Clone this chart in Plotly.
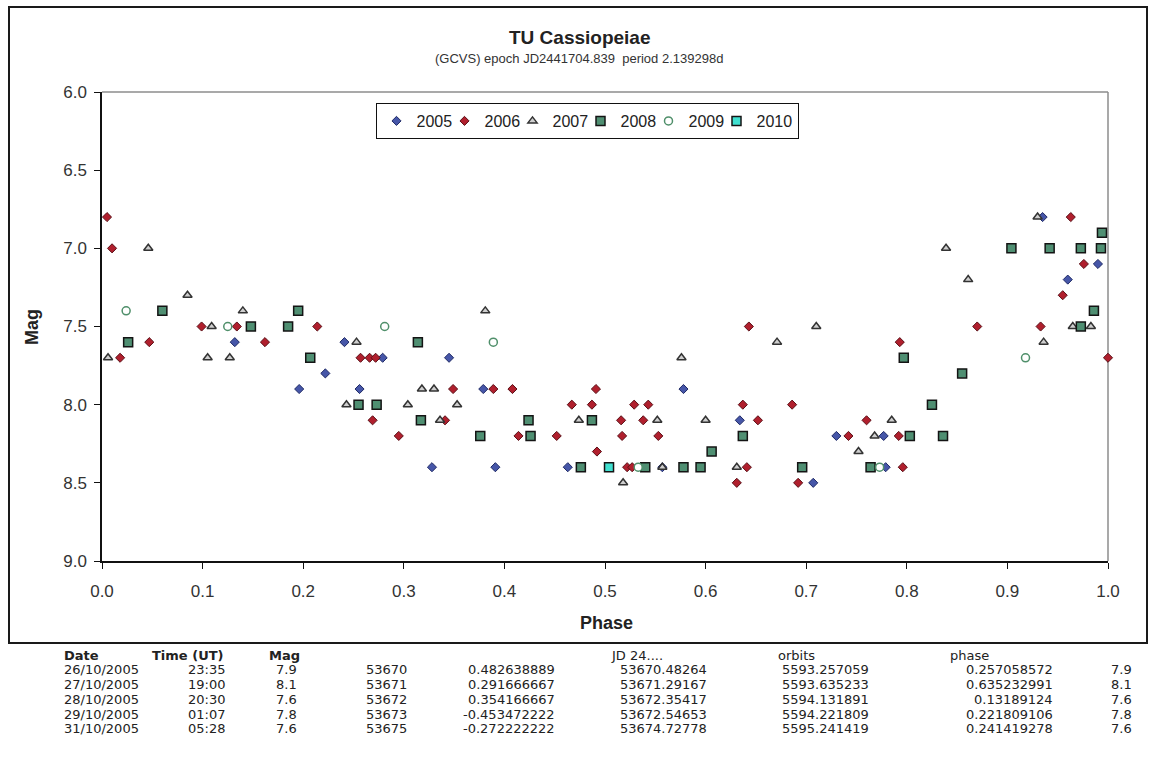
import plotly.graph_objects as go

# ---------------- data ----------------
phase_2005 = [0.132, 0.196, 0.222, 0.241, 0.256, 0.279, 0.328, 0.345, 0.379, 0.391,
              0.463, 0.557, 0.578, 0.634, 0.707, 0.730, 0.777, 0.779, 0.935, 0.960, 0.990]
mag_2005 = [7.6, 7.9, 7.8, 7.6, 7.9, 7.7, 8.4, 7.7, 7.9, 8.4,
            8.4, 8.4, 7.9, 8.1, 8.5, 8.2, 8.2, 8.4, 6.8, 7.2, 7.1]

phase_2006 = [0.005, 0.010, 0.018, 0.047, 0.099, 0.134, 0.162, 0.214, 0.257, 0.266,
              0.272, 0.269, 0.295, 0.341, 0.349, 0.389, 0.408, 0.414, 0.452, 0.467,
              0.487, 0.491, 0.492, 0.516, 0.517, 0.522, 0.527, 0.529, 0.538, 0.543,
              0.553, 0.631, 0.637, 0.641, 0.643, 0.652, 0.686, 0.692, 0.742, 0.760,
              0.792, 0.793, 0.796, 0.870, 0.933, 0.955, 0.963, 0.976, 1.000]
mag_2006 = [6.8, 7.0, 7.7, 7.6, 7.5, 7.5, 7.6, 7.5, 7.7, 7.7,
            7.7, 8.1, 8.2, 8.1, 7.9, 7.9, 7.9, 8.2, 8.2, 8.0,
            8.0, 7.9, 8.3, 8.1, 8.2, 8.4, 8.4, 8.0, 8.1, 8.0,
            8.2, 8.5, 8.0, 8.4, 7.5, 8.1, 8.0, 8.5, 8.2, 8.1,
            8.2, 7.6, 8.4, 7.5, 7.5, 7.3, 6.8, 7.1, 7.7]

phase_2007 = [0.006, 0.046, 0.085, 0.105, 0.109, 0.127, 0.140, 0.243, 0.253, 0.304,
              0.318, 0.330, 0.336, 0.353, 0.381, 0.474, 0.518, 0.552, 0.557, 0.576,
              0.600, 0.631, 0.671, 0.710, 0.752, 0.768, 0.785, 0.839, 0.861, 0.930,
              0.936, 0.965, 0.983]
mag_2007 = [7.7, 7.0, 7.3, 7.7, 7.5, 7.7, 7.4, 8.0, 7.6, 8.0,
            7.9, 7.9, 8.1, 8.0, 7.4, 8.1, 8.5, 8.1, 8.4, 7.7,
            8.1, 8.4, 7.6, 7.5, 8.3, 8.2, 8.1, 7.0, 7.2, 6.8,
            7.6, 7.5, 7.5]

phase_2008 = [0.026, 0.060, 0.148, 0.185, 0.195, 0.207, 0.255, 0.273, 0.314, 0.317,
              0.376, 0.424, 0.426, 0.476, 0.487, 0.540, 0.578, 0.595, 0.606, 0.637,
              0.696, 0.764, 0.797, 0.803, 0.825, 0.836, 0.855, 0.904, 0.942, 0.973,
              0.973, 0.986, 0.993, 0.994]
mag_2008 = [7.6, 7.4, 7.5, 7.5, 7.4, 7.7, 8.0, 8.0, 7.6, 8.1,
            8.2, 8.1, 8.2, 8.4, 8.1, 8.4, 8.4, 8.4, 8.3, 8.2,
            8.4, 8.4, 7.7, 8.2, 8.0, 8.2, 7.8, 7.0, 7.0, 7.0,
            7.5, 7.4, 7.0, 6.9]

phase_2009 = [0.024, 0.125, 0.281, 0.389, 0.533, 0.773, 0.918]
mag_2009 = [7.4, 7.5, 7.5, 7.6, 8.4, 8.4, 7.7]

phase_2010 = [0.504]
mag_2010 = [8.4]

x_ticks = [0.0, 0.1, 0.2, 0.3, 0.4, 0.5, 0.6, 0.7, 0.8, 0.9, 1.0]
y_ticks = [6.0, 6.5, 7.0, 7.5, 8.0, 8.5, 9.0]

title_text = "TU Cassiopeiae"
subtitle_text = "(GCVS) epoch JD2441704.839\u00a0\u00a0period 2.139298d"

# table printed under the chart
tbl_date = ["26/10/2005", "27/10/2005", "28/10/2005", "29/10/2005", "31/10/2005"]
tbl_time = ["23:35", "19:00", "20:30", "01:07", "05:28"]
tbl_mag = ["7.9", "8.1", "7.6", "7.8", "7.6"]
tbl_day = ["53670", "53671", "53672", "53673", "53675"]
tbl_frac = ["0.482638889", "0.291666667", "0.354166667", "-0.453472222", "-0.272222222"]
tbl_jd = ["53670.48264", "53671.29167", "53672.35417", "53672.54653", "53674.72778"]
tbl_orbits = ["5593.257059", "5593.635233", "5594.131891", "5594.221809", "5595.241419"]
tbl_phase = ["0.257058572", "0.635232991", "0.13189124", "0.221809106", "0.241419278"]

# ---------------- layout helpers ----------------
W, H = 1150, 763
ML, MR, MT, MB = 102, 42, 92, 202
PW = W - ML - MR
PH = H - MT - MB


def px_x(px):
    return (px - ML) / PW


def px_y(py):
    return (H - MB - py) / PH


FONT = "Liberation Sans, Arial, sans-serif"
TFONT = "DejaVu Sans, sans-serif"
TXT = "#222222"

fig = go.Figure()

series = [
    ("2005", phase_2005, mag_2005, dict(symbol="diamond", size=7, color="#4656a8",
                                        line=dict(color="#1f2a66", width=1)), 23),
    ("2006", phase_2006, mag_2006, dict(symbol="diamond", size=7, color="#b01f2d",
                                        line=dict(color="#5a0f16", width=1)), 23),
    ("2007", phase_2007, mag_2007, dict(symbol="triangle-up", size=8, color="#cfcfcf",
                                        line=dict(color="#333333", width=1.5)), 23),
    ("2008", phase_2008, mag_2008, dict(symbol="square", size=9, color="#4f8f72",
                                        line=dict(color="#141414", width=1.5)), 23),
    ("2009", phase_2009, mag_2009, dict(symbol="circle", size=8, color="#ffffff",
                                        line=dict(color="#4f8f6a", width=1.5)), 23),
    ("2010", phase_2010, mag_2010, dict(symbol="square", size=9, color="#40e0d0",
                                        line=dict(color="#141414", width=1.5)), 0),
]

for name, xs, ys, mk, lw in series:
    kw = dict(x=xs, y=ys, mode="markers", name=name, marker=mk, cliponaxis=False)
    if lw:
        kw["legendwidth"] = lw
    fig.add_trace(go.Scatter(**kw))

annotations = [
    dict(text="<b>" + title_text + "</b>", x=px_x(580), y=px_y(38), xref="paper", yref="paper",
         showarrow=False, xanchor="center", yanchor="middle",
         font=dict(family=FONT, size=19, color=TXT)),
    dict(text=subtitle_text, x=px_x(579), y=px_y(59), xref="paper", yref="paper",
         showarrow=False, xanchor="center", yanchor="middle",
         font=dict(family=FONT, size=13, color="#333333")),
    dict(text="<b>Mag</b>", x=px_x(32), y=px_y(327), xref="paper", yref="paper",
         showarrow=False, textangle=-90, xanchor="center", yanchor="middle",
         font=dict(family=FONT, size=18, color=TXT)),
    dict(text="<b>Phase</b>", x=px_x(606), y=px_y(623), xref="paper", yref="paper",
         showarrow=False, xanchor="center", yanchor="middle",
         font=dict(family=FONT, size=18, color=TXT)),
]


def cell(text, px, py, anchor, bold=False):
    t = "<b>" + text + "</b>" if bold else text
    return dict(text=t, x=px_x(px), y=px_y(py), xref="paper", yref="paper",
                showarrow=False, xanchor=anchor, yanchor="middle",
                font=dict(family=TFONT, size=13, color=TXT))


header_y = 655
row_y = [669, 684, 699, 714, 728]
annotations += [
    cell("Date", 62, header_y, "left", True),
    cell("Time (UT)", 150, header_y, "left", True),
    cell("Mag", 267, header_y, "left", True),
    cell("JD 24....", 609, header_y, "left"),
    cell("orbits", 776, header_y, "left"),
    cell("phase", 948, header_y, "left"),
]
for i, ry in enumerate(row_y):
    annotations += [
        cell(tbl_date[i], 62, ry, "left"),
        cell(tbl_time[i], 227, ry, "right"),
        cell(tbl_mag[i], 299, ry, "right"),
        cell(tbl_day[i], 409, ry, "right"),
        cell(tbl_frac[i], 557, ry, "right"),
        cell(tbl_jd[i], 618, ry, "left"),
        cell(tbl_orbits[i], 780, ry, "left"),
        cell(tbl_phase[i], 1055, ry, "right"),
        cell(tbl_mag[i], 1134, ry, "right"),
    ]

shapes = [
    # outer chart frame
    dict(type="rect", xref="paper", yref="paper",
         x0=px_x(9), x1=px_x(1147), y0=px_y(643), y1=px_y(7),
         line=dict(color="#1a1a1a", width=2), layer="above"),
    # plot area top and right border (grey)
    dict(type="line", xref="paper", yref="paper", x0=0, x1=1, y0=1, y1=1,
         line=dict(color="#8c8c8c", width=1.5), layer="below"),
    dict(type="line", xref="paper", yref="paper", x0=1, x1=1, y0=0, y1=1,
         line=dict(color="#8c8c8c", width=1.5), layer="below"),
]

fig.update_layout(
    width=W, height=H,
    margin=dict(l=ML, r=MR, t=MT, b=MB, pad=0),
    paper_bgcolor="white", plot_bgcolor="rgba(0,0,0,0)",
    font=dict(family=FONT, color=TXT),
    showlegend=True,
    legend=dict(orientation="h", x=px_x(587), xanchor="center", y=px_y(103), yanchor="top",
                bordercolor="#111111", borderwidth=1, bgcolor="white",
                font=dict(family=FONT, size=16, color=TXT), traceorder="normal",
                itemclick=False, itemdoubleclick=False),
    annotations=annotations,
    shapes=shapes,
)

fig.update_xaxes(range=[0, 1], tickvals=x_ticks, tickformat=".1f", showgrid=False, zeroline=False,
                 showline=True, linecolor="#111111", linewidth=1.5,
                 ticks="outside", ticklen=6, tickcolor="#111111", tickwidth=1,
                 ticklabelstandoff=8, tickfont=dict(family=FONT, size=17, color="#333333"))
fig.update_yaxes(range=[9, 6], tickvals=y_ticks, tickformat=".1f", showgrid=False, zeroline=False,
                 showline=True, linecolor="#111111", linewidth=1.5,
                 ticks="outside", ticklen=6, tickcolor="#111111", tickwidth=1,
                 ticklabelstandoff=4, tickfont=dict(family=FONT, size=17, color="#333333"))

fig.write_html("out.html")
